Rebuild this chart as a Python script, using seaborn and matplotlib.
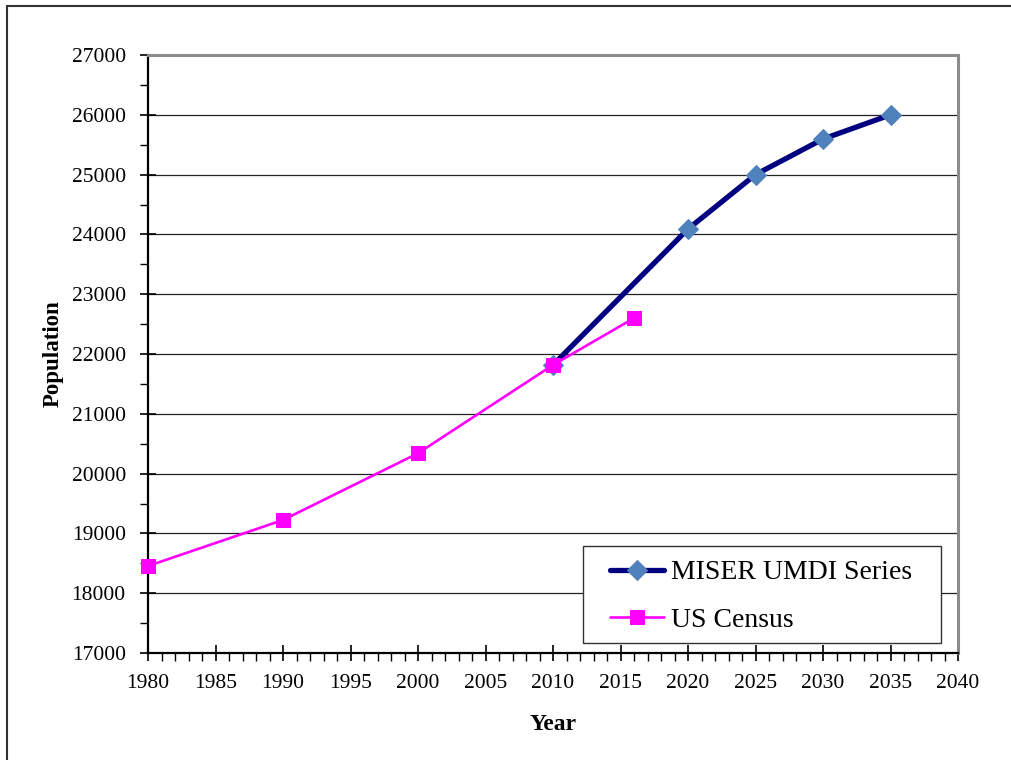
import matplotlib
matplotlib.use("Agg")
import matplotlib.pyplot as plt
from matplotlib.lines import Line2D
from matplotlib.patches import Rectangle
from matplotlib.ticker import MultipleLocator
import seaborn as sns

# Population series
census_years = [1980, 1990, 2000, 2010, 2016]
census_pop = [18455, 19224, 20340, 21816, 22600]

miser_years = [2010, 2020, 2025, 2030, 2035]
miser_pop = [21816, 24090, 25000, 25595, 26000]

x_ticks = [1980, 1985, 1990, 1995, 2000, 2005, 2010, 2015, 2020, 2025, 2030, 2035, 2040]
y_ticks = [17000, 18000, 19000, 20000, 21000, 22000, 23000, 24000, 25000, 26000, 27000]

sns.set_style("white")
plt.rcParams["font.family"] = ["Liberation Serif", "DejaVu Serif"]
plt.rcParams["text.color"] = "black"
plt.rcParams["axes.labelcolor"] = "black"

W, H = 1012, 760
fig = plt.figure(figsize=(W / 100, H / 100), dpi=100)
ax = fig.add_axes([148 / W, 1 - 653 / H, 810 / W, 598 / H])

# Horizontal gridlines drawn behind the series
ax.set_axisbelow(True)
ax.yaxis.grid(True, which="major", color="#222222", linewidth=0.9)
ax.xaxis.grid(False)

sns.lineplot(x=miser_years, y=miser_pop, ax=ax, color="#000080", linewidth=3.8,
             marker="D", markersize=10, markerfacecolor="#4F81BD",
             markeredgecolor="#4F81BD", label="MISER UMDI Series", zorder=3,
             clip_on=False)
sns.lineplot(x=census_years, y=census_pop, ax=ax, color="#FF00FF", linewidth=1.9,
             marker="s", markersize=10.5, markerfacecolor="#FF00FF",
             markeredgecolor="#FF00FF", label="US Census", zorder=4,
             clip_on=False)

ax.set_xlim(x_ticks[0], x_ticks[-1])
ax.set_ylim(y_ticks[0], y_ticks[-1])
ax.set_xticks(x_ticks)
ax.set_yticks(y_ticks)
ax.set_xticklabels([str(t) for t in x_ticks])
ax.set_yticklabels([str(t) for t in y_ticks])
ax.xaxis.set_minor_locator(MultipleLocator(1))
ax.yaxis.set_minor_locator(MultipleLocator(500))

ax.tick_params(axis="both", which="major", direction="inout", length=12, width=1.2,
               color="black", labelsize=15.5, labelcolor="black")
ax.tick_params(axis="x", which="major", pad=9)
ax.tick_params(axis="y", which="major", pad=10)
ax.tick_params(axis="both", which="minor", direction="out", length=6, width=1.0,
               color="black")
ax.tick_params(bottom=True, left=True, which="both")

for side in ("left", "bottom"):
    ax.spines[side].set_color("black")
    ax.spines[side].set_linewidth(1.6)
for side in ("top", "right"):
    ax.spines[side].set_color("#8c8c8c")
    ax.spines[side].set_linewidth(2.2)

ax.set_xlabel("Year", fontsize=17, fontweight="bold", labelpad=15, color="black")
ax.set_ylabel("Population", fontsize=16.5, fontweight="bold", labelpad=6, color="black")

# Legend entries without their own frame; the box is drawn separately
leg = ax.legend(loc="upper left", bbox_to_anchor=((610 - 148) / 810, (653 - 560) / 598),
                fontsize=20, frameon=False, borderpad=0, labelspacing=0.8,
                handlelength=1.95, handletextpad=0.25, borderaxespad=0,
                labelcolor="black")
leg.set_zorder(6)
ax.add_patch(Rectangle(((583 - 148) / 810, (653 - 643) / 598), (941 - 583) / 810,
                       (643 - 546) / 598, transform=ax.transAxes, facecolor="white",
                       edgecolor="#333333", linewidth=1.0, zorder=5))

# Outer chart frame (top and left edges)
fig.add_artist(Line2D([7 / W, 1.0], [1 - 6 / H, 1 - 6 / H],
                      transform=fig.transFigure, color="#333333", linewidth=1.5))
fig.add_artist(Line2D([7 / W, 7 / W], [0.0, 1 - 6 / H],
                      transform=fig.transFigure, color="#333333", linewidth=1.5))

fig.savefig("out.png", dpi=100)
